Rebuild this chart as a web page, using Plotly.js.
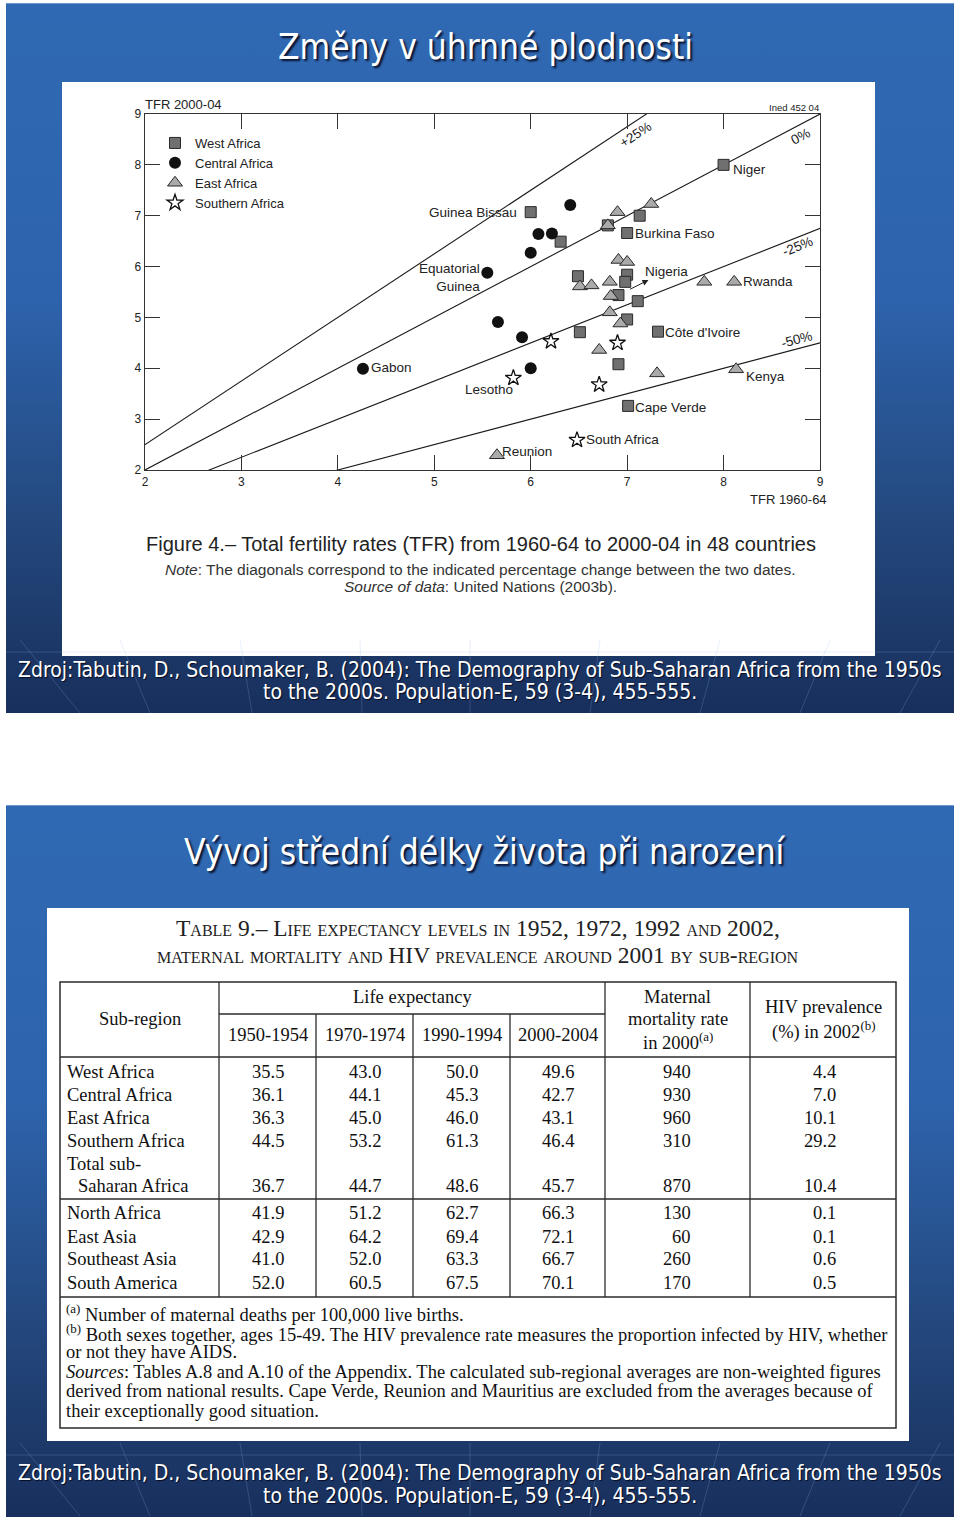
<!DOCTYPE html>
<html><head><meta charset="utf-8">
<script src="https://cdn.plot.ly/plotly-3.0.1.min.js"></script>
<style>
html,body{margin:0;padding:0;background:#fff;}
#wrap{position:relative;width:960px;height:1519px;overflow:hidden;}
.slide{position:absolute;left:6px;width:948px;background:linear-gradient(180deg,#3069b3 0%,#2d63ac 42%,#24497f 72%,#182f5c 100%);border-top:1px solid #6f95cf;}
#s1{top:3px;height:709px;}
#s2{top:805px;height:711px;}
#chart{position:absolute;left:0;top:0;width:960px;height:1519px;}
</style></head>
<body>
<div id="wrap">
<div class="slide" id="s1"></div>
<div class="slide" id="s2"></div>
<div id="chart"></div>
</div>
<script>
// ================= DATA: TFR 1960-64 (x) vs TFR 2000-04 (y) =================
const westX = [8.00, 6.00, 7.13, 6.80, 7.00, 6.31, 7.00, 6.49, 6.98, 6.91, 7.11, 7.00, 6.51, 7.32, 6.91, 7.01];
const westY = [8.00, 7.07, 7.00, 6.81, 6.66, 6.49, 5.84, 5.81, 5.70, 5.44, 5.32, 4.96, 4.71, 4.72, 4.08, 3.26];
const westNames = ['Niger','Guinea Bissau','','','Burkina Faso','','','','','Nigeria','','','',"Côte d'Ivoire",'','Cape Verde'];

const centralX = [6.41, 6.08, 6.22, 6.00, 5.55, 5.66, 5.91, 6.00, 4.26];
const centralY = [7.21, 6.64, 6.65, 6.27, 5.88, 4.91, 4.61, 4.00, 3.99];
const centralNames = ['','','','','Equatorial<br>Guinea','','','','Gabon'];

const eastX = [6.90, 7.25, 6.80, 6.91, 7.00, 6.51, 6.63, 6.82, 7.80, 8.11, 6.83, 6.82, 6.93, 6.71, 7.31, 8.13, 5.65];
const eastY = [7.07, 7.23, 6.81, 6.13, 6.09, 5.61, 5.63, 5.70, 5.70, 5.70, 5.42, 5.10, 4.88, 4.36, 3.90, 3.98, 2.29];
const eastNames = ['','','','','','','','','','Rwanda','','','','','','Kenya','Reunion'];

const southX = [6.21, 6.90, 5.82, 6.71, 6.48];
const southY = [4.53, 4.50, 3.81, 3.68, 2.59];
const southNames = ['','','Lesotho','','South Africa'];

const pctLines = [25, 0, -25, -50];   // diagonals: % change between the two dates
const tfrTicks = [2, 3, 4, 5, 6, 7, 8, 9];

// ================= DATA: Table 9 =================
const subRegions = ['West Africa','Central Africa','East Africa','Southern Africa','Total sub-<br>Saharan Africa','North Africa','East Asia','Southeast Asia','South America'];
const periods = ['1950-1954','1970-1974','1990-1994','2000-2004'];
const le1950 = [35.5, 36.1, 36.3, 44.5, 36.7, 41.9, 42.9, 41.0, 52.0];
const le1970 = [43.0, 44.1, 45.0, 53.2, 44.7, 51.2, 64.2, 52.0, 60.5];
const le1990 = [50.0, 45.3, 46.0, 61.3, 48.6, 62.7, 69.4, 63.3, 67.5];
const le2000 = [49.6, 42.7, 43.1, 46.4, 45.7, 66.3, 72.1, 66.7, 70.1];
const maternalMortality = [940, 930, 960, 310, 870, 130, 60, 260, 170];
const hivPrevalence = [4.4, 7.0, 10.1, 29.2, 10.4, 0.1, 0.1, 0.6, 0.5];

// ================= LAYOUT HELPERS / STYLES =================
const W = 960, H = 1519;
const px = x => x / W, py = y => 1 - y / H;
const SANS = 'Liberation Sans, Arial, Helvetica, sans-serif';
const SERIF = 'Liberation Serif, Times New Roman, serif';
const SLIDE = 'DejaVu Sans Condensed, DejaVu Sans, Verdana, sans-serif';
const INK = '#222';

const groups = [
  {name:'West Africa', x:westX, y:westY, names:westNames,
   marker:{symbol:'square', size:11, color:'#707070', line:{color:'#2a2a2a', width:1}}},
  {name:'Central Africa', x:centralX, y:centralY, names:centralNames,
   marker:{symbol:'circle', size:12, color:'#111', line:{color:'#111', width:0}}},
  {name:'East Africa', x:eastX, y:eastY, names:eastNames,
   marker:{symbol:'triangle-up', size:13, color:'#aaaaaa', line:{color:'#2a2a2a', width:1}}},
  {name:'Southern Africa', x:southX, y:southY, names:southNames,
   marker:{symbol:'star', size:12, color:'#ffffff', line:{color:'#111', width:1.3}}}
];

// label placement relative to the labelled point (pixels)
const labelStyle = {
  'Niger': {xanchor:'left', dx:7, dy:-5},
  'Guinea Bissau': {xanchor:'right', dx:-12, dy:0},
  'Burkina Faso': {xanchor:'left', dx:6, dy:0},
  "Côte d'Ivoire": {xanchor:'left', dx:5, dy:-1},
  'Cape Verde': {xanchor:'left', dx:5, dy:-2},
  'Equatorial<br>Guinea': {xanchor:'right', dx:-5, dy:-5},
  'Gabon': {xanchor:'left', dx:6, dy:1},
  'Rwanda': {xanchor:'left', dx:7, dy:0},
  'Kenya': {xanchor:'left', dx:8, dy:-7},
  'Reunion': {xanchor:'left', dx:3, dy:4},
  'Lesotho': {xanchor:'center', dx:-24, dy:-12},
  'South Africa': {xanchor:'left', dx:7, dy:0}
};
const arrowLabels = {'Nigeria': {ax:48, ay:-24}};
const pctLabelPos = [
  {x:7.09, y:8.60, angle:-33},
  {x:8.80, y:8.55, angle:-28},
  {x:8.77, y:6.39, angle:-22},
  {x:8.76, y:4.57, angle:-15}
];

// ================= TRACES =================
const traces = [];
pctLines.forEach(p => {
  const f = 1 + p / 100;
  traces.push({type:'scatter', mode:'lines', x:[tfrTicks[0] - 2, tfrTicks[tfrTicks.length-1] + 2],
    y:[(tfrTicks[0] - 2) * f, (tfrTicks[tfrTicks.length-1] + 2) * f],
    line:{color:'#1a1a1a', width:1.1}, showlegend:false, hoverinfo:'skip', xaxis:'x', yaxis:'y'});
});
groups.forEach(g => {
  traces.push({type:'scatter', mode:'markers', name:g.name, x:g.x, y:g.y, marker:g.marker,
    xaxis:'x', yaxis:'y', hoverinfo:'x+y+name'});
});

// ================= ANNOTATIONS =================
const ann = [];
const addP = (text, x, y, size, opts={}) => ann.push(Object.assign({
  text, x:px(x), y:py(y), xref:'paper', yref:'paper', showarrow:false,
  xanchor:'center', yanchor:'middle', font:{family:SANS, size, color:INK}}, opts));

// slide titles & sources
const titleFont = {family:SLIDE, size:35, color:'#ffffff', shadow:'2px 2px 2px rgba(0,0,20,0.85)'};
const srcFont = {family:SLIDE, size:21, color:'#ffffff', shadow:'1px 1px 1px rgba(0,0,20,0.8)'};
addP('Změny v úhrnné plodnosti', 485, 47, 35, {font:titleFont});
addP('Vývoj střední délky života při narození', 485, 852, 35, {font:titleFont});
const srcLines = ['Zdroj:Tabutin, D., Schoumaker, B. (2004): The Demography of Sub-Saharan Africa from the 1950s',
                  'to the 2000s. Population-E, 59 (3-4), 455-555.'];
addP(srcLines[0], 480, 670, 21, {font:srcFont});
addP(srcLines[1], 480, 692, 21, {font:srcFont});
addP(srcLines[0], 480, 1473, 21, {font:srcFont});
addP(srcLines[1], 480, 1496, 21, {font:srcFont});

// figure texts
addP('TFR 2000-04', 143, 104, 13, {xanchor:'left'});
addP('Ined 452 04', 821, 107, 9.5, {xanchor:'right'});
addP('TFR 1960-64', 829, 499, 13, {xanchor:'right'});
addP('Figure 4.– Total fertility rates (TFR) from 1960-64 to 2000-04 in 48 countries', 481, 544, 20);
addP('<i>Note</i>: The diagonals correspond to the indicated percentage change between the two dates.', 480, 569, 15.5, {font:{family:SANS,size:15.5,color:'#333'}});
addP('<i>Source of data</i>: United Nations (2003b).', 480, 586, 15.5, {font:{family:SANS,size:15.5,color:'#333'}});

// percentage labels on diagonals
pctLines.forEach((p, i) => {
  const pos = pctLabelPos[i];
  ann.push({text:(p > 0 ? '+' : '') + p + '%', x:pos.x, y:pos.y, xref:'x', yref:'y', showarrow:false,
    textangle:pos.angle, font:{family:SANS, size:13.5, color:INK}});
});

// country labels
groups.forEach(g => {
  g.names.forEach((nm, i) => {
    if (!nm) return;
    if (labelStyle[nm]) {
      const s = labelStyle[nm];
      ann.push({text:nm, x:g.x[i], y:g.y[i], xref:'x', yref:'y', showarrow:false,
        xanchor:s.xanchor, yanchor:'middle', xshift:s.dx, yshift:s.dy, align:'right',
        font:{family:SANS, size:13.5, color:INK}});
    } else if (arrowLabels[nm]) {
      const s = arrowLabels[nm];
      ann.push({text:nm, x:g.x[i], y:g.y[i], xref:'x', yref:'y', showarrow:true,
        ax:s.ax, ay:s.ay, arrowside:'start', startarrowhead:2, startarrowsize:1.2, arrowwidth:1,
        arrowcolor:INK, standoff:13, startstandoff:0,
        font:{family:SANS, size:13.5, color:INK}});
    }
  });
});

// ================= TABLE =================
const tbl = {left:60, right:896, top:982, lifeLine:1014, headBottom:1057, groupLine:1199, noteLine:1297, bottom:1428};
const colEdges = [60, 219, 316, 413, 510, 605, 750, 896];
const colCenter = i => (colEdges[i] + colEdges[i+1]) / 2;
const rowY = [1072, 1095, 1118, 1141, 1186, 1213, 1237, 1259, 1283];
const lineGap = 22.5;
const TFS = 18.5;
const addT = (text, x, y, opts={}) => ann.push(Object.assign({
  text, x, y, xref:'x2', yref:'y2', showarrow:false, xanchor:'center', yanchor:'middle',
  font:{family:SERIF, size:TFS, color:'#111'}}, opts));

// table title (small caps)
const capsFont = {family:SERIF, size:23.5, color:'#222', variant:'small-caps'};
addT('Table 9.– Life expectancy levels in 1952, 1972, 1992 and 2002,', 478, 928, {font:capsFont});
addT('maternal mortality and HIV prevalence around 2001 by sub-region', 478, 955, {font:capsFont});

// header
addT('Sub-region', colCenter(0), 1019);
addT('Life expectancy', (colEdges[1] + colEdges[5]) / 2, 997);
periods.forEach((p, i) => addT(p, colCenter(i + 1), 1035));
addT('Maternal', colCenter(5), 997);
addT('mortality rate', colCenter(5), 1019);
addT('in 2000<sup>(a)</sup>', colCenter(5), 1041);
addT('HIV prevalence', colCenter(6), 1007);
addT('(%) in 2002<sup>(b)</sup>', colCenter(6), 1030);

// body
const leCols = [le1950, le1970, le1990, le2000];
subRegions.forEach((r, i) => {
  const lines = r.split('<br>');
  lines.forEach((ln, k) => {
    addT(ln, 65 + (k > 0 ? 11 : 0), rowY[i] - (lines.length - 1 - k) * lineGap, {xanchor:'left'});
  });
  leCols.forEach((col, c) => addT(col[i].toFixed(1), colCenter(c + 1), rowY[i]));
  addT(String(maternalMortality[i]), 693, rowY[i], {xanchor:'right'});
  addT(hivPrevalence[i].toFixed(1), 838, rowY[i], {xanchor:'right'});
});

// footnotes
const noteFont = {family:SERIF, size:18.5, color:'#111'};
const notes = [
  '<sup>(a)</sup> Number of maternal deaths per 100,000 live births.',
  '<sup>(b)</sup> Both sexes together, ages 15-49. The HIV prevalence rate measures the proportion infected by HIV, whether',
  'or not they have AIDS.',
  '<i>Sources</i>: Tables A.8 and A.10 of the Appendix. The calculated sub-regional averages are non-weighted figures',
  'derived from national results. Cape Verde, Reunion and Mauritius are excluded from the averages because of',
  'their exceptionally good situation.'
];
const noteY = [1313, 1333, 1352, 1372, 1391, 1411];
notes.forEach((t, i) => addT(t, 64, noteY[i], {xanchor:'left', font:noteFont}));

// ================= SHAPES =================
const shapes = [];
const boxP = (x0, y0, x1, y1) => shapes.push({type:'rect', xref:'paper', yref:'paper', layer:'below',
  x0:px(x0), x1:px(x1), y0:py(y1), y1:py(y0), fillcolor:'#ffffff', line:{width:0}});
boxP(62, 82, 875, 656);
boxP(47, 908, 909, 1441);
// faint decorative perspective lines of the slide template
const deco = (x0, y0, x1, y1) => shapes.push({type:'line', xref:'paper', yref:'paper', layer:'below',
  x0:px(x0), x1:px(x1), y0:py(y0), y1:py(y1), line:{color:'rgba(150,180,230,0.22)', width:1}});
[[0,0],[1,803]].forEach(([k, off]) => {
  [[20,640,80,713],[120,640,150,713],[240,640,252,713],[360,640,362,713],[470,640,470,713],
   [600,640,590,713],[720,640,700,713],[830,640,800,713],[940,640,900,713],[6,652,954,652]]
   .forEach(l => deco(l[0], l[1] + off, l[2], l[3] + off));
});
const tl = (x0, y0, x1, y1, w) => shapes.push({type:'line', xref:'x2', yref:'y2', x0, y0, x1, y1,
  line:{color:'#2b2b2b', width:w || 1.3}});
shapes.push({type:'rect', xref:'x2', yref:'y2', x0:tbl.left, x1:tbl.right, y0:tbl.top, y1:tbl.bottom,
  line:{color:'#2b2b2b', width:1.5}});
tl(colEdges[1], tbl.lifeLine, colEdges[5], tbl.lifeLine);
tl(tbl.left, tbl.headBottom, tbl.right, tbl.headBottom);
tl(tbl.left, tbl.groupLine, tbl.right, tbl.groupLine);
tl(tbl.left, tbl.noteLine, tbl.right, tbl.noteLine);
colEdges.slice(1, -1).forEach((x, i) => {
  const yStart = (i >= 1 && i <= 3) ? tbl.lifeLine : tbl.top;
  tl(x, yStart, x, tbl.noteLine);
});

// ================= LAYOUT =================
const axisBase = {range:[2, 9], tickvals:tfrTicks, ticks:'inside', ticklen:15, tickwidth:1, tickcolor:'#333',
  showline:true, linecolor:'#333', linewidth:1.3, mirror:'ticks', showgrid:false, zeroline:false,
  tickfont:{family:SANS, size:12, color:INK}, fixedrange:true};

const layout = {
  width:W, height:H, margin:{l:0, r:0, t:0, b:0, pad:0},
  paper_bgcolor:'rgba(0,0,0,0)', plot_bgcolor:'rgba(0,0,0,0)',
  showlegend:true,
  legend:{x:px(155), y:py(128), xanchor:'left', yanchor:'top', bgcolor:'rgba(0,0,0,0)',
    font:{family:SANS, size:13, color:INK}, tracegroupgap:0, itemwidth:30},
  xaxis:Object.assign({}, axisBase, {domain:[px(145), px(820)], anchor:'y'}),
  yaxis:Object.assign({}, axisBase, {domain:[py(470), py(114)], anchor:'x'}),
  xaxis2:{domain:[px(47), px(909)], range:[47, 909], visible:false, anchor:'y2', fixedrange:true},
  yaxis2:{domain:[py(1441), py(908)], range:[1441, 908], visible:false, anchor:'x2', fixedrange:true},
  annotations:ann, shapes:shapes
};

Plotly.newPlot('chart', traces, layout, {staticPlot:true, displayModeBar:false});
</script>
</body></html>
